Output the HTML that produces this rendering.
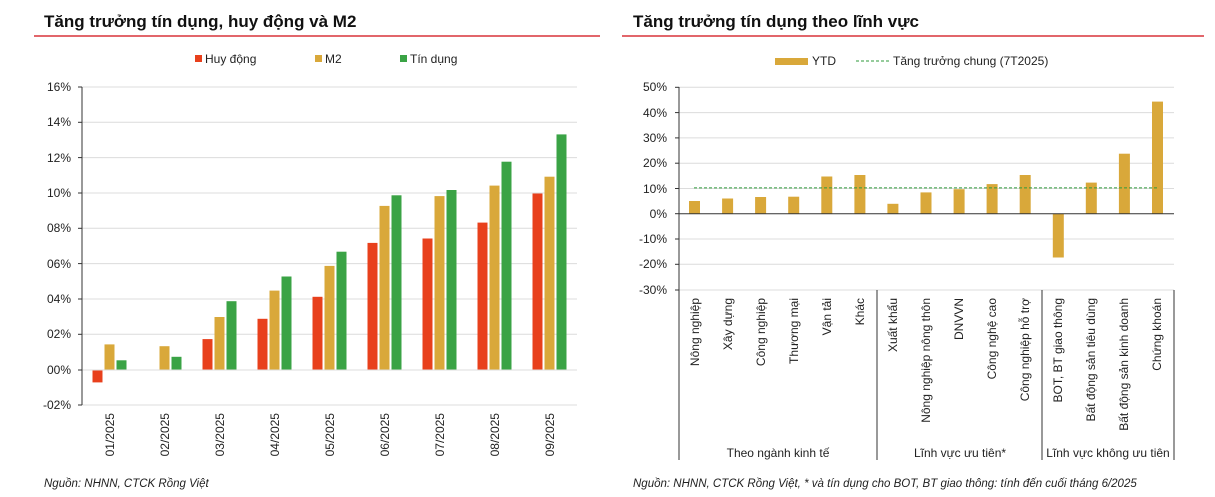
<!DOCTYPE html>
<html><head><meta charset="utf-8"><style>
html,body{margin:0;padding:0;background:#fff}
svg{display:block;font-family:"Liberation Sans",sans-serif}
</style></head><body>
<svg width="1215" height="497" viewBox="0 0 1215 497" xmlns="http://www.w3.org/2000/svg">
<!-- LEFT -->
<text x="44" y="27" font-size="17" font-weight="bold" fill="#111">Tăng trưởng tín dụng, huy động và M2</text>
<line x1="34" y1="36" x2="600" y2="36" stroke="#d9343a" stroke-width="1.5"/>
<g font-size="12" fill="#222">
<rect x="195" y="55" width="7" height="7" fill="#e8401c"/><text x="205" y="63">Huy động</text>
<rect x="315" y="55" width="7" height="7" fill="#d9a83a"/><text x="325" y="63">M2</text>
<rect x="400" y="55" width="7" height="7" fill="#3aa345"/><text x="410" y="63">Tín dụng</text>
</g>
<g stroke="#dcdcdc" stroke-width="1">
<line x1="82" y1="87" x2="577" y2="87"/><line x1="82" y1="122.3" x2="577" y2="122.3"/>
<line x1="82" y1="157.6" x2="577" y2="157.6"/><line x1="82" y1="193" x2="577" y2="193"/>
<line x1="82" y1="228.3" x2="577" y2="228.3"/><line x1="82" y1="263.6" x2="577" y2="263.6"/>
<line x1="82" y1="299" x2="577" y2="299"/><line x1="82" y1="334.3" x2="577" y2="334.3"/>
<line x1="82" y1="405" x2="577" y2="405"/>
</g>
<g font-size="12" fill="#222" text-anchor="end">
<text x="71" y="91">16%</text><text x="71" y="126">14%</text><text x="71" y="162">12%</text>
<text x="71" y="197">10%</text><text x="71" y="232">08%</text><text x="71" y="268">06%</text>
<text x="71" y="303">04%</text><text x="71" y="338">02%</text><text x="71" y="374">00%</text>
<text x="71" y="409">-02%</text>
</g>
<g fill="#e8401c">
<rect x="92.5" y="370" width="10" height="12.4"/>
<rect x="202.5" y="339.1" width="10" height="30.9"/>
<rect x="257.5" y="318.8" width="10" height="51.2"/>
<rect x="312.5" y="296.8" width="10" height="73.2"/>
<rect x="367.5" y="242.9" width="10" height="127.1"/>
<rect x="422.5" y="238.5" width="10" height="131.5"/>
<rect x="477.5" y="222.6" width="10" height="147.4"/>
<rect x="532.5" y="193.5" width="10" height="176.5"/>
</g>
<g fill="#d9a83a">
<rect x="104.5" y="344.4" width="10" height="25.6"/>
<rect x="159.5" y="346.2" width="10" height="23.8"/>
<rect x="214.5" y="317" width="10" height="53"/>
<rect x="269.5" y="290.6" width="10" height="79.4"/>
<rect x="324.5" y="265.9" width="10" height="104.1"/>
<rect x="379.5" y="205.9" width="10" height="164.1"/>
<rect x="434.5" y="196.1" width="10" height="173.9"/>
<rect x="489.5" y="185.6" width="10" height="184.4"/>
<rect x="544.5" y="176.7" width="10" height="193.3"/>
</g>
<g fill="#3aa345">
<rect x="116.5" y="360.3" width="10" height="9.7"/>
<rect x="171.5" y="356.8" width="10" height="13.2"/>
<rect x="226.5" y="301.2" width="10" height="68.8"/>
<rect x="281.5" y="276.5" width="10" height="93.5"/>
<rect x="336.5" y="251.7" width="10" height="118.3"/>
<rect x="391.5" y="195.3" width="10" height="174.7"/>
<rect x="446.5" y="190" width="10" height="180"/>
<rect x="501.5" y="161.7" width="10" height="208.3"/>
<rect x="556.5" y="134.4" width="10" height="235.6"/>
</g>
<line x1="82" y1="370" x2="577" y2="370" stroke="#dcdcdc"/>
<line x1="82" y1="87" x2="82" y2="405" stroke="#333"/>
<g stroke="#333"><line x1="78" y1="87" x2="82" y2="87"/><line x1="78" y1="122.3" x2="82" y2="122.3"/><line x1="78" y1="157.6" x2="82" y2="157.6"/><line x1="78" y1="193" x2="82" y2="193"/><line x1="78" y1="228.3" x2="82" y2="228.3"/><line x1="78" y1="263.6" x2="82" y2="263.6"/><line x1="78" y1="299" x2="82" y2="299"/><line x1="78" y1="334.3" x2="82" y2="334.3"/><line x1="78" y1="370" x2="82" y2="370"/><line x1="78" y1="405" x2="82" y2="405"/></g>
<g font-size="12" fill="#222" text-anchor="end">
<text transform="translate(114,413) rotate(-90)">01/2025</text>
<text transform="translate(169,413) rotate(-90)">02/2025</text>
<text transform="translate(224,413) rotate(-90)">03/2025</text>
<text transform="translate(279,413) rotate(-90)">04/2025</text>
<text transform="translate(334,413) rotate(-90)">05/2025</text>
<text transform="translate(389,413) rotate(-90)">06/2025</text>
<text transform="translate(444,413) rotate(-90)">07/2025</text>
<text transform="translate(499,413) rotate(-90)">08/2025</text>
<text transform="translate(554,413) rotate(-90)">09/2025</text>
</g>
<text x="44" y="487" font-size="11.5" font-style="italic" fill="#222">Nguồn: NHNN, CTCK Rồng Việt</text>

<!-- RIGHT -->
<text x="633" y="27" font-size="17" font-weight="bold" fill="#111">Tăng trưởng tín dụng theo lĩnh vực</text>
<line x1="622" y1="36" x2="1204" y2="36" stroke="#d9343a" stroke-width="1.5"/>
<rect x="775" y="58" width="33" height="7" fill="#d9a83a"/>
<text x="812" y="65" font-size="12" fill="#222">YTD</text>
<line x1="856" y1="61" x2="890" y2="61" stroke="#2e9a3a" stroke-dasharray="3,2"/>
<text x="893" y="65" font-size="12" fill="#222">Tăng trưởng chung (7T2025)</text>
<g stroke="#dcdcdc">
<line x1="679" y1="87.3" x2="1174" y2="87.3"/><line x1="679" y1="112.6" x2="1174" y2="112.6"/>
<line x1="679" y1="137.9" x2="1174" y2="137.9"/><line x1="679" y1="163.2" x2="1174" y2="163.2"/>
<line x1="679" y1="188.5" x2="1174" y2="188.5"/><line x1="679" y1="239" x2="1174" y2="239"/>
<line x1="679" y1="264.3" x2="1174" y2="264.3"/><line x1="679" y1="290" x2="1174" y2="290"/>
</g>
<g font-size="12" fill="#222" text-anchor="end">
<text x="667" y="91">50%</text><text x="667" y="117">40%</text><text x="667" y="142">30%</text>
<text x="667" y="167">20%</text><text x="667" y="193">10%</text><text x="667" y="218">0%</text>
<text x="667" y="243">-10%</text><text x="667" y="268">-20%</text><text x="667" y="294">-30%</text>
</g>
<g fill="#d9a83a">
<rect x="689" y="201" width="11" height="12.7"/>
<rect x="722.1" y="198.5" width="11" height="15.2"/>
<rect x="755.1" y="197" width="11" height="16.7"/>
<rect x="788.2" y="196.7" width="11" height="17"/>
<rect x="821.3" y="176.5" width="11" height="37.2"/>
<rect x="854.4" y="175" width="11" height="38.7"/>
<rect x="887.4" y="203.8" width="11" height="9.9"/>
<rect x="920.5" y="192.4" width="11" height="21.3"/>
<rect x="953.6" y="189.2" width="11" height="24.5"/>
<rect x="986.6" y="184.1" width="11" height="29.6"/>
<rect x="1019.7" y="175" width="11" height="38.7"/>
<rect x="1052.8" y="213.7" width="11" height="43.8"/>
<rect x="1085.8" y="182.6" width="11" height="31.1"/>
<rect x="1118.9" y="153.7" width="11" height="60"/>
<rect x="1152" y="101.6" width="11" height="112.1"/>
</g>
<line x1="694" y1="187.9" x2="1158" y2="187.9" stroke="#2e9a3a" stroke-dasharray="3,2"/>
<line x1="679" y1="213.7" x2="1174" y2="213.7" stroke="#333"/>
<line x1="679" y1="87" x2="679" y2="460" stroke="#333"/>
<line x1="877" y1="290" x2="877" y2="460" stroke="#333"/>
<line x1="1042" y1="290" x2="1042" y2="460" stroke="#333"/>
<line x1="1174" y1="290" x2="1174" y2="460" stroke="#333"/>
<g stroke="#333"><line x1="675" y1="87.3" x2="679" y2="87.3"/><line x1="675" y1="112.6" x2="679" y2="112.6"/><line x1="675" y1="137.9" x2="679" y2="137.9"/><line x1="675" y1="163.2" x2="679" y2="163.2"/><line x1="675" y1="188.5" x2="679" y2="188.5"/><line x1="675" y1="213.7" x2="679" y2="213.7"/><line x1="675" y1="239" x2="679" y2="239"/><line x1="675" y1="264.3" x2="679" y2="264.3"/><line x1="675" y1="290" x2="679" y2="290"/></g>
<g font-size="12" fill="#222" text-anchor="end">
<text transform="translate(699,298) rotate(-90)">Nông nghiệp</text>
<text transform="translate(732,298) rotate(-90)">Xây dựng</text>
<text transform="translate(765,298) rotate(-90)">Công nghiệp</text>
<text transform="translate(798,298) rotate(-90)">Thương mại</text>
<text transform="translate(831,298) rotate(-90)">Vận tải</text>
<text transform="translate(864,298) rotate(-90)">Khác</text>
<text transform="translate(897,298) rotate(-90)">Xuất khẩu</text>
<text transform="translate(930,298) rotate(-90)">Nông nghiệp nông thôn</text>
<text transform="translate(963,298) rotate(-90)">DNVVN</text>
<text transform="translate(996,298) rotate(-90)">Công nghệ cao</text>
<text transform="translate(1029,298) rotate(-90)">Công nghiệp hỗ trợ</text>
<text transform="translate(1062,298) rotate(-90)">BOT, BT giao thông</text>
<text transform="translate(1095,298) rotate(-90)">Bất động sản tiêu dùng</text>
<text transform="translate(1128,298) rotate(-90)">Bất động sản kinh doanh</text>
<text transform="translate(1161,298) rotate(-90)">Chứng khoán</text>
</g>
<g font-size="12" fill="#222" text-anchor="middle">
<text x="778" y="457">Theo ngành kinh tế</text>
<text x="960" y="457">Lĩnh vực ưu tiên*</text>
<text x="1108" y="457">Lĩnh vực không ưu tiên</text>
</g>
<text x="633" y="487" font-size="11.5" font-style="italic" fill="#222">Nguồn: NHNN, CTCK Rồng Việt, * và tín dụng cho BOT, BT giao thông: tính đến cuối tháng 6/2025</text>
</svg>
</body></html>
